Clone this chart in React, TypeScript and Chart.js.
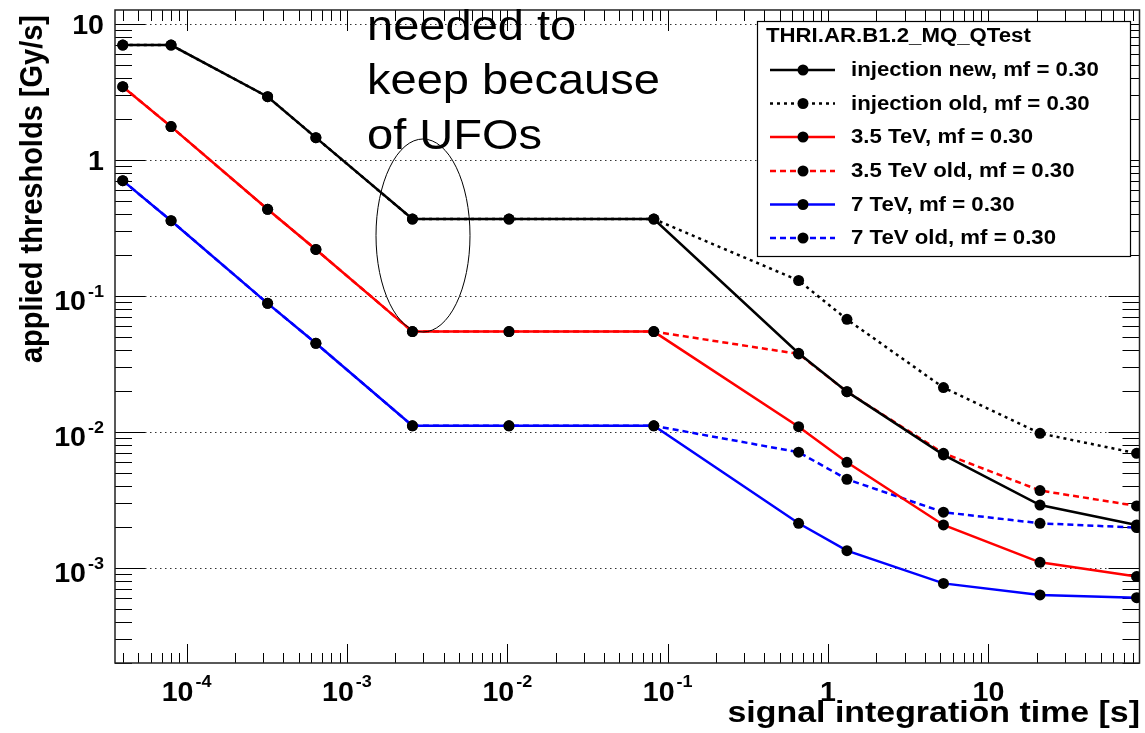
import { useEffect, useRef } from "react";
import { Chart, registerables } from "chart.js";

Chart.register(...registerables);

// ---- data ----
const times = [4e-5, 8e-5, 3.2e-4, 6.4e-4, 2.56e-3, 1.024e-2, 8.192e-2, 0.655, 1.311, 5.243, 20.97, 83.89];

const injectionNew = [7.0, 7.0, 2.92, 1.46, 0.368, 0.368, 0.368, 0.0379, 0.0198, 0.00678, 0.0029, 0.00207];
const injectionOld = [7.0, 7.0, 2.92, 1.46, 0.368, 0.368, 0.368, 0.13, 0.0673, 0.0212, 0.00977, 0.00697];
const tev35New = [3.46, 1.76, 0.434, 0.22, 0.0547, 0.0547, 0.0547, 0.01094, 0.00598, 0.00207, 0.0011, 0.000864];
const tev35Old = [3.46, 1.76, 0.434, 0.22, 0.0547, 0.0547, 0.0547, 0.0375, 0.0198, 0.00697, 0.00371, 0.00286];
const tev7New = [0.705, 0.358, 0.0883, 0.0449, 0.0111, 0.0111, 0.0111, 0.00213, 0.00134, 0.00077, 0.000633, 0.000605];
const tev7Old = [0.705, 0.358, 0.0883, 0.0449, 0.0111, 0.0111, 0.0111, 0.0071, 0.00449, 0.00257, 0.00213, 0.00198];

const seriesLabels = [
  "injection new, mf = 0.30",
  "injection old, mf = 0.30",
  "3.5 TeV, mf = 0.30",
  "3.5 TeV old, mf = 0.30",
  "7 TeV, mf = 0.30",
  "7 TeV old, mf = 0.30",
];
const legendTitle = "THRI.AR.B1.2_MQ_QTest";

const xTickValues = [1e-4, 1e-3, 1e-2, 1e-1, 1, 10];
const xTickBase = ["10", "10", "10", "10", "1", "10"];
const xTickExp = ["-4", "-3", "-2", "-1", "", ""];

const yTickValues = [10, 1, 0.1, 0.01, 0.001];
const yTickBase = ["10", "1", "10", "10", "10"];
const yTickExp = ["", "", "-1", "-2", "-3"];

const xTitle = "signal integration time [s]";
const yTitle = "applied thresholds [Gy/s]";
const noteLines = ["needed to", "keep because", "of UFOs"];

const X_MIN = 3.577e-5;
const X_MAX = 87.5;
const Y_MIN = 2.0e-4;
const Y_MAX = 12.68;

const FF = "'Liberation Sans', Arial, Helvetica, sans-serif";

type Style = { color: string; width: number; dash: number[] };
const styles: Style[] = [
  { color: "#000000", width: 2.5, dash: [] },
  { color: "#000000", width: 2.5, dash: [3, 4] },
  { color: "#ff0000", width: 2.5, dash: [] },
  { color: "#ff0000", width: 2.5, dash: [6, 4] },
  { color: "#0000ff", width: 2.5, dash: [] },
  { color: "#0000ff", width: 2.5, dash: [6, 4] },
];
const seriesValues = [injectionNew, injectionOld, tev35New, tev35Old, tev7New, tev7Old];

function drawText(ctx: CanvasRenderingContext2D, s: string, x: number, y: number, font: string, align: CanvasTextAlign, sx: number) {
  ctx.save();
  ctx.font = font;
  ctx.textAlign = align;
  ctx.textBaseline = "alphabetic";
  ctx.fillStyle = "#000";
  ctx.translate(x, y);
  ctx.scale(sx, 1);
  ctx.fillText(s, 0, 0);
  ctx.restore();
}
function textW(ctx: CanvasRenderingContext2D, s: string, font: string, sx: number) {
  ctx.save();
  ctx.font = font;
  const w = ctx.measureText(s).width * sx;
  ctx.restore();
  return w;
}

const rootPlugin = {
  id: "rootStyle",
  beforeDatasetsDraw(chart: any) {
    const ctx: CanvasRenderingContext2D = chart.ctx;
    const xs = chart.scales.x;
    const ys = chart.scales.y;
    const { left, right, top, bottom } = chart.chartArea;
    ctx.save();
    // gridlines (horizontal, decades)
    ctx.strokeStyle = "#333";
    ctx.lineWidth = 1;
    ctx.setLineDash([1.5, 3.5]);
    for (const v of yTickValues) {
      const py = Math.round(ys.getPixelForValue(v)) + 0.5;
      ctx.beginPath();
      ctx.moveTo(left, py);
      ctx.lineTo(right, py);
      ctx.stroke();
    }
    ctx.setLineDash([]);
    ctx.strokeStyle = "#000";
    ctx.lineWidth = 1;
    // x ticks
    for (let e = -5; e <= 1; e++) {
      for (let m = 1; m <= 9; m++) {
        const v = m * Math.pow(10, e);
        if (v < X_MIN || v > X_MAX) continue;
        const px = Math.round(xs.getPixelForValue(v)) + 0.5;
        const major = m === 1;
        ctx.beginPath();
        ctx.moveTo(px, bottom);
        ctx.lineTo(px, bottom - (major ? 19 : 10));
        ctx.moveTo(px, top);
        ctx.lineTo(px, top + (major ? 21 : 11));
        ctx.stroke();
      }
    }
    // y ticks
    for (let e = -4; e <= 1; e++) {
      for (let m = 1; m <= 9; m++) {
        const v = m * Math.pow(10, e);
        if (v < Y_MIN || v > Y_MAX) continue;
        const py = Math.round(ys.getPixelForValue(v)) + 0.5;
        const major = m === 1;
        ctx.beginPath();
        ctx.moveTo(left, py);
        ctx.lineTo(left + (major ? 30 : 17), py);
        ctx.moveTo(right, py);
        ctx.lineTo(right - (major ? 31 : 17), py);
        ctx.stroke();
      }
    }
    // frame
    ctx.strokeStyle = "#222";
    ctx.lineWidth = 1.5;
    ctx.strokeRect(left, top, right - left, bottom - top);

    // tick labels
    const bf = `bold 27px ${FF}`;
    const sf = `bold 17px ${FF}`;
    const sxl = 1.06;
    yTickValues.forEach((v, i) => {
      const gy = ys.getPixelForValue(v);
      const base = yTickBase[i];
      const exp = yTickExp[i];
      const rx = 104;
      if (!exp) {
        drawText(ctx, base, rx, gy + 10, bf, "right", sxl);
      } else {
        const we = textW(ctx, exp, sf, sxl);
        const wb = textW(ctx, base, bf, sxl);
        const x0 = rx - we - 2 - wb;
        drawText(ctx, base, x0, gy + 14, bf, "left", sxl);
        drawText(ctx, exp, x0 + wb + 2, gy + 1, sf, "left", sxl);
      }
    });
    xTickValues.forEach((v, i) => {
      const gx = xs.getPixelForValue(v);
      const base = xTickBase[i];
      const exp = xTickExp[i];
      if (!exp) {
        drawText(ctx, base, gx, 701, bf, "center", sxl);
      } else {
        const we = textW(ctx, exp, sf, sxl);
        const wb = textW(ctx, base, bf, sxl);
        const x0 = gx - (wb + 2 + we) / 2;
        drawText(ctx, base, x0, 701, bf, "left", sxl);
        drawText(ctx, exp, x0 + wb + 2, 687, sf, "left", sxl);
      }
    });

    // axis titles
    drawText(ctx, xTitle, 1140, 722, `bold 30px ${FF}`, "right", 1.13);
    ctx.save();
    ctx.translate(42, 15);
    ctx.scale(1.1, 1);
    ctx.rotate(-Math.PI / 2);
    ctx.font = `bold 29px ${FF}`;
    ctx.textAlign = "right";
    ctx.textBaseline = "alphabetic";
    ctx.fillStyle = "#000";
    ctx.fillText(yTitle, 0, 0);
    ctx.restore();
    ctx.restore();
  },
  afterDatasetsDraw(chart: any) {
    const ctx: CanvasRenderingContext2D = chart.ctx;
    ctx.save();
    // legend box
    const bx0 = 757, by0 = 21, bx1 = 1130, by1 = 256;
    ctx.fillStyle = "#fff";
    ctx.fillRect(bx0, by0, bx1 - bx0, by1 - by0);
    ctx.strokeStyle = "#000";
    ctx.lineWidth = 1.2;
    ctx.strokeRect(bx0 + 0.5, by0 + 0.5, bx1 - bx0, by1 - by0);
    drawText(ctx, legendTitle, 766, 42, `bold 20px ${FF}`, "left", 1.11);
    const rowY = [70, 103.5, 137, 171, 204.5, 238];
    seriesLabels.forEach((lab, i) => {
      const st = styles[i];
      const cy = rowY[i];
      ctx.save();
      ctx.strokeStyle = st.color;
      ctx.lineWidth = st.width;
      ctx.setLineDash(st.dash);
      ctx.beginPath();
      ctx.moveTo(770, cy);
      ctx.lineTo(835, cy);
      ctx.stroke();
      ctx.restore();
      ctx.beginPath();
      ctx.fillStyle = "#000";
      ctx.arc(803, cy, 5.5, 0, Math.PI * 2);
      ctx.fill();
      drawText(ctx, lab, 851, cy + 6, `bold 20px ${FF}`, "left", 1.11);
    });

    // annotation
    const nb = [40, 94, 149];
    noteLines.forEach((s, i) => drawText(ctx, s, 367, nb[i], `42px ${FF}`, "left", 1.12));
    ctx.beginPath();
    ctx.strokeStyle = "#000";
    ctx.lineWidth = 1;
    ctx.ellipse(423, 235.5, 47, 96.5, 0, 0, Math.PI * 2);
    ctx.stroke();
    ctx.restore();
  },
};

export default function App() {
  const ref = useRef<HTMLCanvasElement | null>(null);
  useEffect(() => {
    if (!ref.current) return;
    const datasets = seriesValues.map((vals, i) => ({
      label: seriesLabels[i],
      data: times.map((t, j) => ({ x: t, y: vals[j] })),
      borderColor: styles[i].color,
      borderWidth: styles[i].width,
      borderDash: styles[i].dash,
      pointRadius: 5.5,
      pointHoverRadius: 5.5,
      pointBackgroundColor: "#000",
      pointBorderColor: "#000",
      pointBorderWidth: 0,
      tension: 0,
      fill: false,
    }));
    const chart = new Chart(ref.current, {
      type: "line",
      data: { datasets },
      options: {
        animation: false,
        responsive: false,
        events: [],
        layout: { padding: { left: 0, top: 10, right: 4, bottom: 0 } },
        plugins: { legend: { display: false }, tooltip: { enabled: false } },
        scales: {
          x: {
            type: "logarithmic",
            min: X_MIN,
            max: X_MAX,
            bounds: "data",
            ticks: { display: false },
            grid: { display: false },
            border: { display: false },
            afterFit: (s: any) => {
              s.height = 70;
            },
          },
          y: {
            type: "logarithmic",
            min: Y_MIN,
            max: Y_MAX,
            bounds: "data",
            ticks: { display: false },
            grid: { display: false },
            border: { display: false },
            afterFit: (s: any) => {
              s.width = 115;
            },
          },
        },
      } as any,
      plugins: [rootPlugin],
    });
    return () => chart.destroy();
  }, []);
  return (
    <div style={{ position: "fixed", left: 0, top: 0, width: 1145, height: 733, background: "#fff" }}>
      <canvas ref={ref} width={1145} height={733} style={{ width: 1145, height: 733, display: "block" }} />
    </div>
  );
}
